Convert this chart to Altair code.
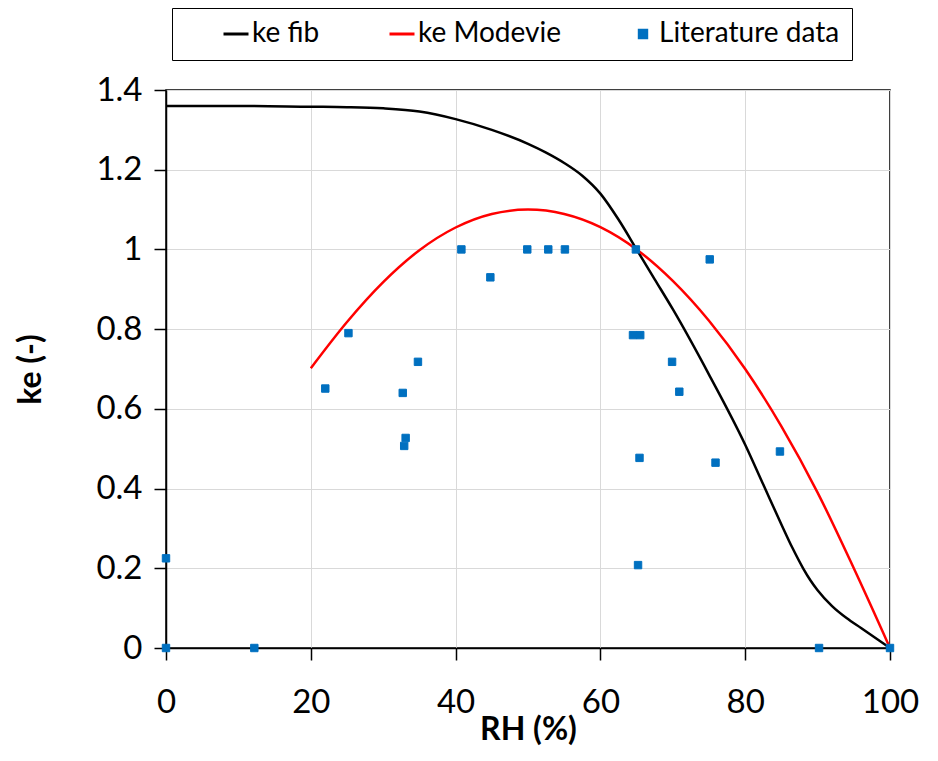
import altair as alt
import pandas as pd

series_names = ["ke fib", "ke Modevie", "Literature data"]
series_colors = ["#000000", "#FF0000", "#0070C0"]

# ke fib curve
fib_rh = [0, 10, 20, 25, 30, 35, 40, 45, 50, 52.5, 55, 57.5, 60, 62.5, 65, 67.5, 70, 75, 80, 82.5, 85,
          86.5, 88, 89, 90, 92, 94, 96, 98, 100]
fib_ke = [1.36, 1.36, 1.358, 1.357, 1.354, 1.346, 1.327, 1.300, 1.265, 1.243, 1.217, 1.185, 1.14, 1.075,
          1.0, 0.925, 0.85, 0.686, 0.51, 0.41, 0.31, 0.252, 0.2, 0.17, 0.145, 0.105, 0.075, 0.05, 0.025, 0.0]

# ke Modevie curve
mod_rh = [20, 25, 30, 35, 40, 45, 50, 55, 60, 65, 70, 75, 80, 85, 90, 95, 100]
mod_ke = [0.702, 0.818, 0.918, 0.998, 1.055, 1.089, 1.1, 1.089, 1.056, 1.0, 0.921, 0.821, 0.70, 0.556,
          0.39, 0.2, 0.0]

# Literature data points
lit_rh = [0, 0, 12.2, 22.0, 25.2, 32.7, 33.1, 32.9, 34.8, 40.8, 44.8, 49.9, 52.8, 55.1, 64.9,
          64.5, 65.5, 69.9, 70.9, 65.4, 75.1, 75.9, 84.8, 65.2, 90.2, 100]
lit_ke = [0.225, 0, 0, 0.651, 0.79, 0.64, 0.527, 0.507, 0.718, 1.0, 0.93, 1.0, 1.0, 1.0, 1.0,
          0.785, 0.785, 0.718, 0.643, 0.477, 0.975, 0.465, 0.493, 0.208, 0, 0]

x_ticks = [0, 20, 40, 60, 80, 100]
y_ticks = [0, 0.2, 0.4, 0.6, 0.8, 1.0, 1.2, 1.4]

fib_df = pd.DataFrame({"RH": fib_rh, "ke": fib_ke, "series": series_names[0]})
mod_df = pd.DataFrame({"RH": mod_rh, "ke": mod_ke, "series": series_names[1]})
lit_df = pd.DataFrame({"RH": lit_rh, "ke": lit_ke, "series": series_names[2]})

FONT = "Lato"

x_enc = alt.X(
    "RH:Q",
    scale=alt.Scale(domain=[0, 100], nice=False, zero=False),
    axis=alt.Axis(
        values=x_ticks, title="RH (%)", tickSize=12, labelPadding=26, labelFlush=False,
        labelFont=FONT, labelFontSize=33, labelColor="black",
        titleFont=FONT, titleFontSize=32, titleFontWeight="bold", titleColor="black",
        titlePadding=-5, gridColor="#d9d9d9", gridWidth=1,
        domainColor="black", domainWidth=1.5, tickColor="black", tickWidth=1.5,
    ),
)
y_enc = alt.Y(
    "ke:Q",
    scale=alt.Scale(domain=[0, 1.4], nice=False),
    axis=alt.Axis(
        values=y_ticks, title="ke (-)", format="~g", tickSize=12, labelPadding=12,
        labelFont=FONT, labelFontSize=33, labelColor="black",
        titleFont=FONT, titleFontSize=32, titleFontWeight="bold", titleColor="black",
        titlePadding=48, gridColor="#d9d9d9", gridWidth=1,
        domainColor="black", domainWidth=1.5, tickColor="black", tickWidth=1.5,
    ),
)

legend = alt.Legend(
    title=None, orient="none", legendX=6, legendY=-82, direction="horizontal", columns=3,
    strokeColor="black", padding=12, labelFont=FONT, labelFontSize=28, labelColor="black",
    labelOffset=2, labelLimit=400, columnPadding=30, symbolOffset=38, symbolStrokeWidth=3,
)

fib_line = alt.Chart(fib_df).mark_line(color="black", strokeWidth=2.5, interpolate="monotone").encode(
    x=x_enc, y=y_enc
)
mod_line = alt.Chart(mod_df).mark_line(color="red", strokeWidth=2.5, interpolate="monotone").encode(
    x=x_enc, y=y_enc
)
points = alt.Chart(lit_df).mark_point(filled=True, opacity=1, strokeWidth=1).encode(
    x=x_enc,
    y=y_enc,
    color=alt.Color("series:N", scale=alt.Scale(domain=series_names, range=series_colors), legend=legend),
    stroke=alt.Stroke("series:N", scale=alt.Scale(domain=series_names, range=series_colors), legend=legend),
    shape=alt.Shape("series:N", scale=alt.Scale(domain=series_names, range=["stroke", "stroke", "square"]), legend=legend),
    size=alt.Size("series:N", scale=alt.Scale(type="ordinal", domain=series_names, range=[625, 625, 55]), legend=legend),
)

chart = (
    alt.layer(fib_line, mod_line, points)
    .properties(
        width=724, height=558,
        autosize=alt.AutoSizeParams(type="none"),
        padding={"left": 158, "top": 82, "right": 40, "bottom": 100},
        background="white",
    )
    .configure_view(stroke="black", strokeWidth=1.5)
)

chart.save("out.html", embed_options={"renderer": "svg", "actions": False})
